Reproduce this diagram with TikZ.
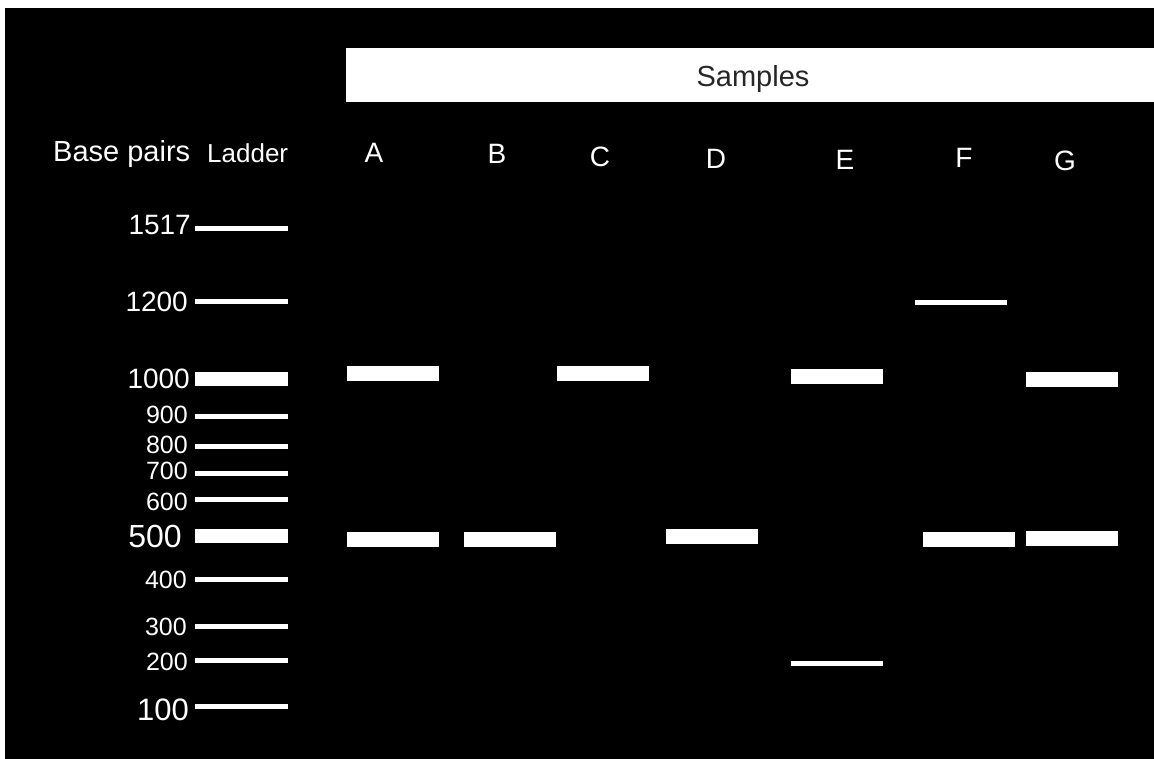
\documentclass[tikz,border=0pt]{standalone}
\usepackage{fontspec}
\setmainfont{Liberation Sans}
\usetikzlibrary{positioning}
\newcommand{\fs}[1]{\fontsize{#1}{#1}\selectfont}
\tikzset{
  gelband/.style={fill=white,inner sep=0pt,minimum width=92pt,minimum height=15pt},
  thinband/.style={gelband,minimum height=5pt},
  ladderband/.style={fill=white,inner sep=0pt,minimum width=93pt,anchor=west},
  sizelabel/.style={text=white,inner sep=0pt,anchor=base east},
  lanelabel/.style={text=white,inner sep=0pt,anchor=base,font=\fs{28}},
  headlabel/.style={text=white,inner sep=0pt,anchor=base west},
}

\begin{document}
\begin{tikzpicture}[x=1pt,y=-1pt]
  \useasboundingbox (0,0) rectangle (1154,759);
  \fill[black] (5,8) rectangle (1154,759);
  % header
  \node[fill=white,inner sep=0pt,minimum width=808pt,minimum height=54pt,anchor=north west] (samplebar) at (346,48) {};
  \node[text=black!85,inner sep=0pt,anchor=base,font=\fs{29}] (samples) at (753,87) {Samples};
  \node[headlabel,font=\fs{29}] (basepairs) at (53,162) {Base pairs};
  \node[headlabel,font=\fs{26}] (ladder) at (207,163) {Ladder};
  % lane letters
  \foreach \lane/\x/\y in {A/374/163,B/497/164,C/600/167,D/716/169,E/845/170,F/964/168,G/1065/171}
    \node[lanelabel] (lane\lane) at (\x,\y) {\lane};
  % ladder
  \foreach \bp/\y/\h in {1517/229/5,1200/302/5,1000/379/14,900/416/5,800/446/5,700/473/5,
                         600/499/5,500/536/14,400/579/5,300/626/5,200/660/5,100/706/5}
    \node[ladderband,minimum height=\h pt] (ladder\bp) at (195,\y) {};
  \foreach \bp/\x/\y/\s in {1517/191/235/28,1200/188/312/28,1000/190/388/28,900/188/423/25,
                            800/188/453/25,700/188/479/25,600/188/510/25,500/182/547/32,
                            400/187/588/25,300/187/635/25,200/188/670/25,100/189/720/31}
    \node[sizelabel,font=\fs{\s}] (size\bp) at (\x,\y) {\bp};
  % sample bands
  \node[gelband] (bandA1000) at (393,373.5) {};
  \node[gelband] (bandA500) at (393,539.5) {};
  \node[gelband] (bandB500) at (509.5,539.5) {};
  \node[gelband] (bandC1000) at (603,373.5) {};
  \node[gelband] (bandD500) at (711.5,536) {};
  \node[gelband] (bandE1000) at (837,376.5) {};
  \node[thinband] (bandE200) at (837,663) {};
  \node[thinband] (bandF1200) at (961,302.5) {};
  \node[gelband] (bandF500) at (968.5,539.5) {};
  \node[gelband] (bandG1000) at (1071.5,379.5) {};
  \node[gelband] (bandG500) at (1071.5,538.5) {};
\end{tikzpicture}
\end{document}
